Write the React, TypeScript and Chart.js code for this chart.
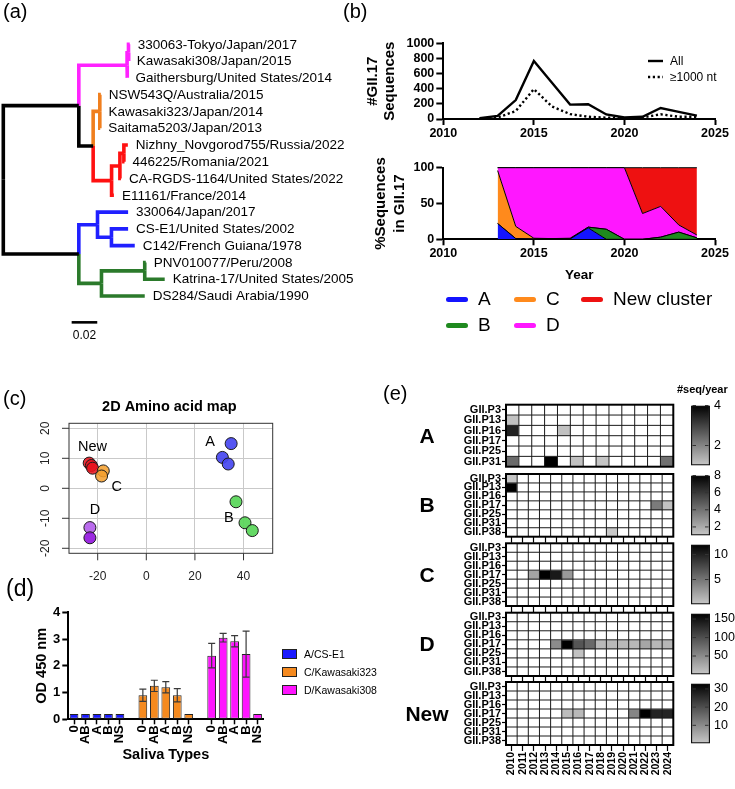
import React, { useEffect, useRef } from 'react';
import { Chart, registerables } from 'chart.js';

Chart.register(...registerables);

const FONT = '"Liberation Sans", Arial, Helvetica, sans-serif';
Chart.defaults.font.family = FONT;
Chart.defaults.color = '#000';

/* ---------------- (a) phylogenetic tree ---------------- */
const treeNames = [
  '', '', '', '', '',
  '330063-Tokyo/Japan/2017', 'Kawasaki308/Japan/2015', 'Gaithersburg/United States/2014',
  '', '',
  'NSW543Q/Australia/2015', 'Kawasaki323/Japan/2014', 'Saitama5203/Japan/2013',
  '', '', '',
  'Nizhny_Novgorod755/Russia/2022', '446225/Romania/2021', 'CA-RGDS-1164/United States/2022', 'E11161/France/2014',
  '', '330064/Japan/2017', '', 'CS-E1/United States/2002', 'C142/French Guiana/1978',
  '', '', 'PNV010077/Peru/2008', 'Katrina-17/United States/2005', 'DS284/Saudi Arabia/1990',
];
const treeParent = [-1, 0, 0, 1, 3, 4, 4, 3, 1, 8, 9, 9, 9, 8, 13, 14, 15, 15, 14, 13, 2, 20, 20, 22, 22, 2, 25, 26, 26, 25];
const treeBranch = [0, 0.059, 0.059, 0.0377, 0.0011, 0.001, 0.0003, 0.0003, 0.0112, 0.0052, 0.0008, 0.0005, 0.0003,
  0.0144, 0.0065, 0.0031, 0.0031, 0.0005, 0.0008, 0.0018, 0.0146, 0.0239, 0.0109, 0.013, 0.0182, 0.0177, 0.0338, 0.0008, 0.0156, 0.0338];
const treeClade = ['k', 'k', 'k', 'D', 'D', 'D', 'D', 'D', 'k', 'C', 'C', 'C', 'C', 'N', 'N', 'N', 'N', 'N', 'N', 'N',
  'A', 'A', 'A', 'A', 'A', 'B', 'B', 'B', 'B', 'B'];
const scaleBarLength = 0.02;

/* ---------------- (b) sequences per year ---------------- */
const seqYears = [2012, 2013, 2014, 2015, 2016, 2017, 2018, 2019, 2020, 2021, 2022, 2023, 2024];
const seqAll = [10, 40, 250, 765, 480, 190, 195, 60, 20, 30, 145, 95, 45];
const seqLong = [5, 20, 105, 395, 165, 65, 30, 18, 8, 20, 62, 30, 30];
const seqTicks = [0, 200, 400, 600, 800, 1000];
const yearTicks = [2010, 2015, 2020, 2025];
const clusterYears = [2013, 2014, 2015, 2016, 2017, 2018, 2019, 2020, 2021, 2022, 2023, 2024];
const pctA = [22, 1, 0.5, 0.5, 0.5, 16, 0, 0, 0, 0, 0, 0];
const pctB = [0, 0, 0, 0, 0, 1, 14, 0, 0, 3, 10, 2];
const pctC = [74, 17, 1, 0.5, 1, 0, 0, 0, 0, 0, 0, 0];
const pctD = [4, 82, 98.5, 99, 98.5, 83, 86, 100, 36, 43, 10, 4];
const pctNew = [0, 0, 0, 0, 0, 0, 0, 0, 64, 54, 80, 94];
const pctTicks = [0, 50, 100];
const clusterNames = ['A', 'B', 'C', 'D', 'New cluster'];
const clusterColors = ['#1414ff', '#1f8a1f', '#ff8a1c', '#ff17ff', '#ee1111'];

/* ---------------- (c) 2D amino acid map ---------------- */
const mapNewX = [-23.5, -22.6, -22.1];
const mapNewY = [8.4, 7.6, 6.7];
const mapCX = [-17.7, -18.4];
const mapCY = [5.8, 4.1];
const mapDX = [-23.2, -23.2];
const mapDY = [-13.1, -16.5];
const mapAX = [34.9, 31.3, 33.7];
const mapAY = [14.9, 10.3, 8.1];
const mapBX = [36.9, 40.6, 43.6];
const mapBY = [-4.5, -11.5, -14.1];
const mapXTicks = [-20, 0, 20, 40];
const mapYTicks = [-20, -10, 0, 10, 20];

/* ---------------- (d) saliva binding ---------------- */
const salivaTypes = ['0', 'AB', 'A', 'B', 'NS'];
const vlpNames = ['A/CS-E1', 'C/Kawasaki323', 'D/Kawasaki308'];
const odA = [0.2, 0.2, 0.2, 0.2, 0.2];
const sdA = [0, 0, 0, 0, 0];
const odC = [0.9, 1.25, 1.2, 0.9, 0.2];
const sdC = [0.23, 0.21, 0.21, 0.25, 0];
const odD = [2.38, 3.05, 2.92, 2.44, 0.2];
const sdD = [0.46, 0.16, 0.21, 0.86, 0];
const odTicks = [0, 1, 2, 3, 4];
const vlpColors = ['#1a1aff', '#f58a1f', '#ff14ff'];

/* ---------------- (e) heatmaps ---------------- */
const heatYears = ['2010', '2011', '2012', '2013', '2014', '2015', '2016', '2017', '2018', '2019', '2020', '2021', '2022', '2023', '2024'];
const heatColsA = ['1', '2', '3', '4', '5', '6', '7', '8', '9', '10', '11', '12', '13'];
const polRowsA = ['GII.P3', 'GII.P13', 'GII.P16', 'GII.P17', 'GII.P25', 'GII.P31'];
const polRows = ['GII.P3', 'GII.P13', 'GII.P16', 'GII.P17', 'GII.P25', 'GII.P31', 'GII.P38'];
const heatA = [
  [0, 0, 0, 0, 0, 0, 0, 0, 0, 0, 0, 0, 0],
  [1.1, 0, 0, 0, 0, 0, 0, 0, 0, 0, 0, 0, 0],
  [3.5, 0, 0, 0, 1.1, 0, 0, 0, 0, 0, 0, 0, 0],
  [0, 0, 0, 0, 0, 0, 0, 0, 0, 0, 0, 0, 0],
  [0, 0, 0, 0, 0, 0, 0, 0, 0, 0, 0, 0, 0],
  [2.4, 0, 0, 4, 0, 1.1, 0, 1.05, 0, 0, 0, 0, 2.3],
];
const heatB = [
  [1.1, 0, 0, 0, 0, 0, 0, 0, 0, 0, 0, 0, 0, 0, 0],
  [8, 0, 0, 0, 0, 0, 0, 0, 0, 0, 0, 0, 0, 0, 0],
  [0, 0, 0, 0, 0, 0, 0, 0, 0, 0, 0, 0, 0, 0, 0],
  [0, 0, 0, 0, 0, 0, 0, 0, 0, 0, 0, 0, 0, 3.7, 1.2],
  [0, 0, 0, 0, 0, 0, 0, 0, 0, 0, 0, 0, 0, 0, 0],
  [0, 0, 0, 0, 0, 0, 0, 0, 0, 0, 0, 0, 0, 0, 0],
  [0, 0, 0, 0, 0, 0, 0, 0, 0, 1, 0, 0, 0, 0, 0],
];
const heatC = [
  [0, 0, 0, 0, 0, 0, 0, 0, 0, 0, 0, 0, 0, 0, 0],
  [0, 0, 0, 0, 0, 0, 0, 0, 0, 0, 0, 0, 0, 0, 0],
  [0, 0, 0, 0, 0, 0, 0, 0, 0, 0, 0, 0, 0, 0, 0],
  [0, 0, 2.2, 12, 10.5, 2.8, 0, 0, 0, 0, 0, 0, 0, 0, 0],
  [0, 0, 0, 0, 0, 0, 0, 0, 0, 0, 0, 0, 0, 0, 0],
  [0, 0, 0, 0, 0, 0, 0, 0, 0, 0, 0, 0, 0, 0, 0],
  [0, 0, 0, 0, 0, 0, 0, 0, 0, 0, 0, 0, 0, 0, 0],
];
const heatD = [
  [0, 0, 0, 0, 0, 0, 0, 0, 0, 0, 0, 0, 0, 0, 0],
  [0, 0, 0, 0, 0, 0, 0, 0, 0, 0, 0, 0, 0, 0, 0],
  [0, 0, 0, 0, 0, 0, 0, 0, 0, 0, 0, 0, 0, 0, 0],
  [0, 0, 0, 0, 50, 165, 95, 78, 12, 12, 12, 12, 28, 14, 14],
  [0, 0, 0, 0, 0, 0, 6, 0, 0, 0, 0, 0, 0, 0, 0],
  [0, 0, 0, 0, 0, 0, 0, 0, 0, 0, 0, 0, 0, 0, 0],
  [0, 0, 0, 0, 0, 0, 0, 0, 0, 0, 0, 0, 0, 0, 0],
];
const heatNew = [
  [0, 0, 0, 0, 0, 0, 0, 0, 0, 0, 0, 0, 0, 0, 0],
  [0, 0, 0, 0, 0, 0, 0, 0, 0, 0, 0, 0, 0, 0, 0],
  [0, 0, 0, 0, 0, 0, 0, 0, 0, 0, 0, 0, 0, 0, 0],
  [0, 0, 0, 0, 0, 2, 2.5, 0, 0, 0, 0, 11, 33, 27, 27],
  [0, 0, 0, 0, 0, 0, 0, 0, 0, 0, 0, 0, 0, 0, 0],
  [0, 0, 0, 0, 0, 0, 0, 0, 0, 0, 0, 0, 0, 0, 0],
  [0, 0, 0, 0, 0, 0, 0, 0, 0, 0, 0, 0, 0, 0, 0],
];
const cbRangeA = [1, 4];
const cbRangeB = [1, 8];
const cbRangeC = [0, 12];
const cbRangeD = [0, 165];
const cbRangeNew = [0, 33];
const cbTicksA = [2, 4];
const cbTicksB = [2, 4, 6, 8];
const cbTicksC = [5, 10];
const cbTicksD = [50, 100, 150];
const cbTicksNew = [10, 20, 30];

/* ---------------- helpers ---------------- */
const bold = (size: number) => ({ size, weight: 'bold' as any, family: FONT });
const norm = (size: number) => ({ size, weight: 'normal' as any, family: FONT });
const fixW = (w: number) => (s: any) => { s.width = w; };
const fixH = (h: number) => (s: any) => { s.height = h; };
const setTicks = (vals: number[]) => (s: any) => { s.ticks = vals.map((v) => ({ value: v })); };
const axisGrid = (len: number, w = 2) => ({ display: true, drawOnChartArea: false, drawTicks: true, tickLength: len, tickWidth: w, tickColor: '#000' });
const axisBorder = { display: true, color: '#000', width: 2 };
const baseOpts = (extra: any) => ({
  animation: false,
  responsive: false,
  maintainAspectRatio: false,
  events: [],
  ...extra,
  plugins: { legend: { display: false }, tooltip: { enabled: false }, title: { display: false }, ...(extra.plugins || {}) },
});
const grayFor = (v: number, range: number[]) => {
  if (!v) return '#ffffff';
  const t = Math.max(0, Math.min(1, (v - range[0]) / (range[1] - range[0])));
  const g = Math.round(200 * (1 - t));
  return `rgb(${g},${g},${g})`;
};

function ChartBox({ x, y, w, h, make }: { x: number; y: number; w: number; h: number; make: () => any }) {
  const ref = useRef<HTMLCanvasElement | null>(null);
  useEffect(() => {
    if (!ref.current) return;
    const c = new Chart(ref.current, make());
    return () => c.destroy();
  }, []);
  return <canvas ref={ref} width={w} height={h} style={{ position: 'absolute', left: x, top: y, width: w, height: h }} />;
}

/* ---------------- (a) tree ---------------- */
const TREE_W = 370;
const TREE_H = 345;
function makeTree() {
  const n = treeParent.length;
  const children: number[][] = treeParent.map(() => []);
  treeParent.forEach((p, i) => { if (p >= 0) children[p].push(i); });
  const xs = new Array(n).fill(0);
  const ys = new Array(n).fill(0);
  let row = 0;
  const walk = (i: number, x: number) => {
    xs[i] = x;
    const ch = children[i];
    if (!ch.length) { ys[i] = row++; return; }
    ch.forEach((c) => walk(c, x + treeBranch[c]));
    ys[i] = (ys[ch[0]] + ys[ch[ch.length - 1]]) / 2;
  };
  walk(0, 0);
  const colors: Record<string, string> = { k: '#000000', A: '#2020ff', B: '#2b7a2b', C: '#f07f1e', D: '#ff22ff', N: '#ff1111' };
  const datasets: any[] = [];
  for (let i = 0; i < n; i++) {
    const p = treeParent[i];
    if (p < 0) continue;
    datasets.push({
      data: [{ x: xs[p], y: ys[p] }, { x: xs[p], y: ys[i] }, { x: xs[i], y: ys[i] }],
      borderColor: colors[treeClade[i]], borderWidth: 3.6, pointRadius: 0, showLine: true,
      borderJoinStyle: 'miter', borderCapStyle: 'butt', clip: false,
    });
  }
  const pxPerUnit = 25.6 / scaleBarLength;
  const rowPx = 16.78;
  const row0 = 44.3;
  const x0 = 3.3;
  const sbX = 0.0534;
  const sbY = 16.57;
  datasets.push({ data: [{ x: sbX, y: sbY }, { x: sbX + scaleBarLength, y: sbY }], borderColor: '#000', borderWidth: 2.6, pointRadius: 0, showLine: true, clip: false });
  return {
    type: 'scatter',
    data: { datasets },
    options: baseOpts({
      layout: { padding: 0 },
      scales: {
        x: { type: 'linear', display: false, min: -x0 / pxPerUnit, max: (TREE_W - x0) / pxPerUnit },
        y: { type: 'linear', display: false, reverse: true, min: -row0 / rowPx, max: (TREE_H - row0) / rowPx },
      },
    }),
    plugins: [{
      id: 'treeLabels',
      afterDatasetsDraw(chart: any) {
        const { ctx, scales: { x, y } } = chart;
        ctx.save();
        ctx.fillStyle = '#000';
        ctx.textBaseline = 'middle';
        ctx.font = `13.5px ${FONT}`;
        for (let i = 0; i < n; i++) {
          if (!treeNames[i]) continue;
          ctx.fillText(treeNames[i], x.getPixelForValue(xs[i]) + 8, y.getPixelForValue(ys[i]) + 0.5);
        }
        ctx.font = `12px ${FONT}`;
        ctx.textAlign = 'center';
        ctx.fillText(String(scaleBarLength), x.getPixelForValue(sbX + scaleBarLength / 2), y.getPixelForValue(sbY) + 13);
        ctx.restore();
      },
    }],
  };
}

/* ---------------- (b) top line chart ---------------- */
function makeSeqLine() {
  return {
    type: 'line',
    data: {
      datasets: [
        { label: 'All', data: seqYears.map((x, i) => ({ x, y: seqAll[i] })), borderColor: '#000', borderWidth: 2.4, pointRadius: 0, tension: 0 },
        { label: '≥1000 nt', data: seqYears.map((x, i) => ({ x, y: seqLong[i] })), borderColor: '#000', borderWidth: 2.4, borderDash: [2.2, 2.6], pointRadius: 0, tension: 0 },
      ],
    },
    options: baseOpts({
      layout: { padding: { top: 13.3, right: 20, left: 0, bottom: 0 } },
      scales: {
        x: {
          type: 'linear', min: 2010, max: 2025, afterBuildTicks: setTicks(yearTicks),
          ticks: { font: bold(12.5), padding: 1, maxRotation: 0, autoSkip: false, callback: (v: any) => String(v) },
          grid: axisGrid(6), border: axisBorder, afterFit: fixH(26),
        },
        y: {
          min: 0, max: 1000, afterBuildTicks: setTicks(seqTicks),
          ticks: { font: bold(12.5), padding: 2, autoSkip: false, callback: (v: any) => String(v) },
          title: { display: true, text: ['#GII.17', 'Sequences'], font: { ...bold(15), lineHeight: 1.1 }, padding: { top: 1, bottom: 0 } },
          grid: axisGrid(7), border: axisBorder, afterFit: fixW(79.3),
        },
      },
    }),
    plugins: [{
      id: 'lineLegend',
      afterDraw(chart: any) {
        const ctx = chart.ctx;
        chart.data.datasets.forEach((ds: any, i: number) => {
          const y = 31 + i * 16;
          ctx.save();
          ctx.strokeStyle = ds.borderColor;
          ctx.lineWidth = ds.borderWidth;
          ctx.setLineDash(ds.borderDash || []);
          ctx.beginPath();
          ctx.moveTo(284, y);
          ctx.lineTo(299, y);
          ctx.stroke();
          ctx.setLineDash([]);
          ctx.fillStyle = '#000';
          ctx.font = `12px ${FONT}`;
          ctx.textBaseline = 'middle';
          ctx.fillText(ds.label, 306, y + 0.5);
          ctx.restore();
        });
      },
    }],
  };
}

/* ---------------- (b) stacked area ---------------- */
function makeClusterArea() {
  const series = [pctA, pctB, pctC, pctD, pctNew];
  return {
    type: 'line',
    data: {
      datasets: clusterNames.map((name, k) => ({
        label: name,
        data: clusterYears.map((x, i) => ({ x, y: series[k][i] })),
        backgroundColor: clusterColors[k], borderColor: '#000', borderWidth: 1, pointRadius: 0, tension: 0,
        fill: k === 0 ? 'origin' : '-1', clip: 2,
      })),
    },
    options: baseOpts({
      layout: { padding: { top: 17.7, right: 20, left: 0, bottom: 0 } },
      scales: {
        x: {
          type: 'linear', min: 2010, max: 2025, afterBuildTicks: setTicks(yearTicks),
          ticks: { font: bold(12.5), padding: 1, maxRotation: 0, autoSkip: false, callback: (v: any) => String(v) },
          title: { display: true, text: 'Year', font: { ...bold(13.5), lineHeight: 1.2 }, padding: { top: 0, bottom: 0.5 } },
          grid: axisGrid(6), border: axisBorder, afterFit: fixH(44.7),
        },
        y: {
          stacked: true, min: 0, max: 100, afterBuildTicks: setTicks(pctTicks),
          ticks: { font: bold(12.5), padding: 2, autoSkip: false, callback: (v: any) => String(v) },
          title: { display: true, text: ['%Sequences', 'in GII.17'], font: { ...bold(15), lineHeight: 1.25 }, padding: { top: 7.6, bottom: 0 } },
          grid: axisGrid(7), border: axisBorder, afterFit: fixW(79.3),
        },
      },
    }),
  };
}

/* ---------------- (c) scatter map ---------------- */
function makeMap() {
  const pts = (xs: number[], ys: number[]) => xs.map((x, i) => ({ x, y: ys[i] }));
  const ds = (data: any[], color: any) => ({ data, backgroundColor: color, borderColor: '#1a1a1a', borderWidth: 1, pointRadius: 6, clip: false });
  const anchors = [
    { t: 'New', x: -22.1, y: 13.9 }, { t: 'C', x: -12.2, y: 0.5 }, { t: 'D', x: -21.1, y: -7.2 },
    { t: 'A', x: 26.2, y: 15.5 }, { t: 'B', x: 34.0, y: -10 },
  ];
  return {
    type: 'scatter',
    data: {
      datasets: [
        ds(pts(mapDX, mapDY), ['rgba(180,96,235,0.92)', 'rgba(148,24,222,0.92)']),
        ds(pts(mapCX, mapCY), 'rgba(245,160,48,0.88)'),
        ds(pts(mapNewX, mapNewY), 'rgba(232,20,30,0.88)'),
        ds(pts(mapAX, mapAY), 'rgba(70,70,240,0.92)'),
        ds(pts(mapBX, mapBY), 'rgba(88,214,88,0.92)'),
      ],
    },
    options: baseOpts({
      layout: { padding: { top: 28.3, left: 69, right: 17.3, bottom: 36.7 } },
      scales: {
        x: { type: 'linear', min: -31.8, max: 52, afterBuildTicks: setTicks(mapXTicks), ticks: { display: false }, grid: { color: '#c9c9c9', drawTicks: false }, border: { display: false }, afterFit: fixH(0) },
        y: { type: 'linear', min: -21.67, max: 21.67, afterBuildTicks: setTicks(mapYTicks), ticks: { display: false }, grid: { color: '#c9c9c9', drawTicks: false }, border: { display: false }, afterFit: fixW(0) },
      },
    }),
    plugins: [{
      id: 'rAxes',
      afterDraw(chart: any) {
        const { ctx, chartArea: a, scales: { x, y } } = chart;
        ctx.save();
        ctx.strokeStyle = '#333';
        ctx.lineWidth = 1;
        ctx.strokeRect(a.left, a.top, a.right - a.left, a.bottom - a.top);
        ctx.fillStyle = '#222';
        ctx.font = `12px ${FONT}`;
        ctx.textAlign = 'center';
        ctx.textBaseline = 'middle';
        x.ticks.forEach((t: any) => {
          const px = x.getPixelForValue(t.value);
          ctx.beginPath(); ctx.moveTo(px, a.bottom); ctx.lineTo(px, a.bottom + 7); ctx.stroke();
          ctx.fillText(String(t.value), px, a.bottom + 23.4);
        });
        y.ticks.forEach((t: any) => {
          const py = y.getPixelForValue(t.value);
          ctx.beginPath(); ctx.moveTo(a.left - 7, py); ctx.lineTo(a.left, py); ctx.stroke();
          ctx.save();
          ctx.translate(a.left - 23.2, py);
          ctx.rotate(-Math.PI / 2);
          ctx.fillText(String(t.value), 0, 0);
          ctx.restore();
        });
        ctx.fillStyle = '#000';
        ctx.font = `bold 14.5px ${FONT}`;
        ctx.fillText('2D Amino acid map', (a.left + a.right) / 2 - 1.5, 11.5);
        ctx.font = `14.5px ${FONT}`;
        anchors.forEach((l) => ctx.fillText(l.t, x.getPixelForValue(l.x), y.getPixelForValue(l.y)));
        ctx.restore();
      },
    }],
  };
}

/* ---------------- (d) bars ---------------- */
function makeBars() {
  const ods = [odA, odC, odD];
  const sds = [sdA, sdC, sdD];
  const slots = salivaTypes.length + 1;
  const labels = vlpNames.flatMap((_, g) => (g < vlpNames.length - 1 ? [...salivaTypes, ''] : salivaTypes));
  const pick = (arr: number[][], g: number) => labels.map((_, k) => (Math.floor(k / slots) === g && k % slots < salivaTypes.length ? arr[g][k % slots] : null));
  return {
    type: 'bar',
    data: {
      labels,
      datasets: vlpNames.map((name, g) => ({
        label: name, data: pick(ods, g), errors: pick(sds, g),
        backgroundColor: vlpColors[g], borderColor: '#222', borderWidth: 1, borderSkipped: false,
        grouped: false, barPercentage: 0.76, categoryPercentage: 1,
      })),
    },
    options: baseOpts({
      layout: { padding: { top: 17.3, right: 36.7, left: 0, bottom: 0 } },
      scales: {
        x: {
          type: 'category', offset: true,
          ticks: { font: bold(13), padding: 1, autoSkip: false, minRotation: 90, maxRotation: 90 },
          grid: { ...axisGrid(5, 1.5), offset: false, tickColor: (c: any) => (labels[c.index] ? '#000' : 'rgba(0,0,0,0)') },
          border: axisBorder,
          title: { display: true, text: 'Saliva Types', font: { ...bold(14.5), lineHeight: 1.2 }, padding: { top: 0, bottom: 25 } },
          afterFit: fixH(69.7),
        },
        y: {
          min: 0, max: 4, afterBuildTicks: setTicks(odTicks),
          ticks: { font: bold(13), padding: 2, autoSkip: false },
          title: { display: true, text: 'OD 450 nm', font: { ...bold(14.5), lineHeight: 1.2 }, padding: { top: 33, bottom: 0 } },
          grid: axisGrid(6), border: axisBorder, afterFit: fixW(68.3),
        },
      },
    }),
    plugins: [{
      id: 'errorBars',
      afterDatasetsDraw(chart: any) {
        const { ctx, scales: { y } } = chart;
        ctx.save();
        ctx.strokeStyle = '#3a3a3a';
        ctx.lineWidth = 1.2;
        chart.data.datasets.forEach((ds: any, di: number) => {
          const meta = chart.getDatasetMeta(di);
          meta.data.forEach((bar: any, k: number) => {
            const v = ds.data[k];
            const e = ds.errors[k];
            if (v == null || !e) return;
            const x = bar.x;
            const y1 = y.getPixelForValue(v + e);
            const y2 = y.getPixelForValue(v - e);
            ctx.beginPath();
            ctx.moveTo(x, y1); ctx.lineTo(x, y2);
            ctx.moveTo(x - 3.5, y1); ctx.lineTo(x + 3.5, y1);
            ctx.moveTo(x - 3.5, y2); ctx.lineTo(x + 3.5, y2);
            ctx.stroke();
          });
        });
        ctx.restore();
      },
    }],
  };
}

/* ---------------- (e) heatmaps ---------------- */
const HEAT_LEFT = 436;
const HEAT_W = 246;
const HEAT_AXIS_W = 70;
const HEAT_PAD_R = 8.7;

function makeHeat(b: any, padTop: number, padBottom: number, xH: number) {
  const rows: string[] = b.rows;
  return {
    type: 'bar',
    data: {
      labels: b.cols,
      datasets: rows.map((_, ri) => ({
        data: b.cols.map(() => [ri, ri + 1]),
        backgroundColor: b.values[ri].map((v: number) => grayFor(v, b.range)),
        borderWidth: 0, grouped: false, barPercentage: 1, categoryPercentage: 1,
      })),
    },
    options: baseOpts({
      layout: { padding: { top: padTop, bottom: padBottom, left: 0, right: HEAT_PAD_R } },
      scales: {
        x: {
          type: 'category', offset: true, display: b.axis !== 'none',
          grid: { display: true, offset: false, drawOnChartArea: false, drawTicks: true, tickLength: 6, tickWidth: 1.2, tickColor: '#000' },
          border: { display: false },
          ticks: { display: b.axis === 'labels', autoSkip: false, minRotation: 90, maxRotation: 90, font: bold(10.5), padding: 1 },
          afterFit: fixH(xH),
        },
        y: {
          type: 'linear', min: 0, max: rows.length, reverse: true,
          afterBuildTicks: (s: any) => { s.ticks = rows.map((_, i) => ({ value: i + 0.5 })); },
          ticks: { autoSkip: false, font: bold(11), padding: 1, callback: (_v: any, i: number) => rows[i] },
          grid: { display: true, drawOnChartArea: false, drawTicks: true, tickLength: 4, tickWidth: 1.2, tickColor: '#000' },
          border: { display: false },
          afterFit: fixW(HEAT_AXIS_W),
        },
      },
    }),
    plugins: [{
      id: 'heatGrid',
      afterDatasetsDraw(chart: any) {
        const { ctx, chartArea: a, scales: { x, y } } = chart;
        const nCols = chart.data.labels.length;
        ctx.save();
        ctx.strokeStyle = '#1a1a1a';
        ctx.lineWidth = 1;
        ctx.beginPath();
        for (let c = 1; c < nCols; c++) {
          const px = x.getPixelForValue(c - 0.5);
          ctx.moveTo(px, a.top); ctx.lineTo(px, a.bottom);
        }
        for (let r = 1; r < rows.length; r++) {
          const py = y.getPixelForValue(r);
          ctx.moveTo(a.left, py); ctx.lineTo(a.right, py);
        }
        ctx.stroke();
        ctx.lineWidth = 2;
        ctx.strokeStyle = '#000';
        ctx.strokeRect(a.left, a.top, a.right - a.left, a.bottom - a.top);
        ctx.restore();
      },
    }],
  };
}

function makeColorbar(b: any, padTop: number, padBottom: number) {
  const range: number[] = b.range;
  return {
    type: 'bar',
    data: {
      labels: [''],
      datasets: [{
        data: [[range[0], range[1]]],
        backgroundColor: (c: any) => {
          const area = c.chart.chartArea;
          if (!area) return '#888';
          const g = c.chart.ctx.createLinearGradient(0, area.bottom, 0, area.top);
          g.addColorStop(0, grayFor(range[0] || 1e-9, range));
          g.addColorStop(1, '#000');
          return g;
        },
        borderColor: '#111', borderWidth: 1.5, borderSkipped: false, barPercentage: 1, categoryPercentage: 1,
      }],
    },
    options: baseOpts({
      layout: { padding: { top: padTop, bottom: padBottom, left: 7, right: 0 } },
      scales: {
        x: { display: false },
        y: {
          position: 'right', min: range[0], max: range[1], afterBuildTicks: setTicks(b.ticks),
          ticks: { font: norm(12.5), padding: 4, autoSkip: false },
          grid: { display: false, drawTicks: false, tickLength: 0 }, border: { display: false }, afterFit: fixW(25),
        },
      },
    }),
    plugins: [{
      id: 'innerTicks',
      afterDatasetsDraw(chart: any) {
        const { ctx, chartArea: a, scales: { y } } = chart;
        ctx.save();
        ctx.strokeStyle = '#333';
        ctx.lineWidth = 1;
        ctx.beginPath();
        y.ticks.forEach((t: any) => {
          const py = y.getPixelForValue(t.value);
          ctx.moveTo(a.left + 1.5, py); ctx.lineTo(a.left + 5, py);
          ctx.moveTo(a.right - 5, py); ctx.lineTo(a.right - 1.5, py);
        });
        ctx.stroke();
        ctx.restore();
      },
    }],
  };
}

const heatBlocks = [
  { label: 'A', rows: polRowsA, cols: heatColsA, values: heatA, range: cbRangeA, ticks: cbTicksA, top: 404.7, bottom: 466.7, axis: 'none' },
  { label: 'B', rows: polRows, cols: heatYears, values: heatB, range: cbRangeB, ticks: cbTicksB, top: 474, bottom: 536.7, axis: 'ticks' },
  { label: 'C', rows: polRows, cols: heatYears, values: heatC, range: cbRangeC, ticks: cbTicksC, top: 543.3, bottom: 606, axis: 'ticks' },
  { label: 'D', rows: polRows, cols: heatYears, values: heatD, range: cbRangeD, ticks: cbTicksD, top: 612.7, bottom: 676, axis: 'ticks' },
  { label: 'New', rows: polRows, cols: heatYears, values: heatNew, range: cbRangeNew, ticks: cbTicksNew, top: 682, bottom: 745, axis: 'labels' },
];

const panelLabel = (t: string, left: number, top: number, size = 20) => (
  <div key={t} style={{ position: 'absolute', left, top, fontSize: size, lineHeight: 1, fontFamily: FONT, color: '#000' }}>{t}</div>
);

export default function App() {
  const legendPos = [
    { k: 0, left: 446, cy: 299 }, { k: 2, left: 514, cy: 299 }, { k: 4, left: 581, cy: 299 },
    { k: 1, left: 446, cy: 325 }, { k: 3, left: 514, cy: 325 },
  ];
  const dLegendY = [654.3, 672, 690.3];
  return (
    <div style={{ position: 'absolute', left: 0, top: 0, width: 735, height: 789, background: '#fff', overflow: 'hidden', fontFamily: FONT }}>
      <ChartBox x={0} y={0} w={TREE_W} h={TREE_H} make={makeTree} />
      <ChartBox x={364} y={30} w={371} h={115} make={makeSeqLine} />
      <ChartBox x={364} y={150} w={371} h={134} make={makeClusterArea} />
      <ChartBox x={0} y={395} w={290} h={195} make={makeMap} />
      <ChartBox x={0} y={595} w={300} h={194} make={makeBars} />
      {heatBlocks.map((b) => {
        const xH = b.axis === 'none' ? 0 : b.axis === 'ticks' ? 6 : 34;
        const cTop = Math.floor(b.top - 8);
        const padTop = b.top - cTop;
        const wantBottom = b.axis === 'none' ? 8 : 3;
        const h = Math.ceil(padTop + (b.bottom - b.top) + xH + wantBottom);
        const padBottom = h - padTop - (b.bottom - b.top) - xH;
        const cbTop = Math.floor(b.top - 10);
        const cbPadTop = b.top - cbTop;
        const cbH = Math.ceil(cbPadTop + (b.bottom - b.top) + 10);
        const cbPadBottom = cbH - cbPadTop - (b.bottom - b.top);
        return (
          <React.Fragment key={b.label}>
            <ChartBox x={HEAT_LEFT} y={cTop} w={HEAT_W} h={h} make={() => makeHeat(b, padTop, padBottom, xH)} />
            <ChartBox x={684} y={cbTop} w={51} h={cbH} make={() => makeColorbar(b, cbPadTop, cbPadBottom)} />
            <div style={{ position: 'absolute', left: 392, width: 70, top: (b.top + b.bottom) / 2 - 12, height: 24, lineHeight: '24px', textAlign: 'center', fontWeight: 'bold', fontSize: 21, color: '#000' }}>{b.label}</div>
          </React.Fragment>
        );
      })}
      <div style={{ position: 'absolute', left: 677, top: 383, fontSize: 11, fontWeight: 'bold', lineHeight: '12px', color: '#000' }}>#seq/year</div>
      {legendPos.map((p) => (
        <div key={p.k} style={{ position: 'absolute', left: p.left, top: p.cy - 12, height: 24, display: 'flex', alignItems: 'center' }}>
          <div style={{ width: 22, height: 5, borderRadius: 2.5, background: clusterColors[p.k] }} />
          <div style={{ marginLeft: 10, fontSize: 19, lineHeight: '24px', color: '#000', whiteSpace: 'nowrap' }}>{clusterNames[p.k]}</div>
        </div>
      ))}
      {vlpNames.map((name, g) => (
        <div key={name} style={{ position: 'absolute', left: 282, top: dLegendY[g] - 7, height: 14, display: 'flex', alignItems: 'center' }}>
          <div style={{ width: 13, height: 8, background: vlpColors[g], border: '1px solid #222' }} />
          <div style={{ marginLeft: 7, fontSize: 10.5, lineHeight: '14px', color: '#000', whiteSpace: 'nowrap' }}>{name}</div>
        </div>
      ))}
      {panelLabel('(a)', 3, 1)}
      {panelLabel('(b)', 343, 1)}
      {panelLabel('(c)', 3, 388)}
      {panelLabel('(d)', 6, 577, 23)}
      {panelLabel('(e)', 383, 383)}
    </div>
  );
}
